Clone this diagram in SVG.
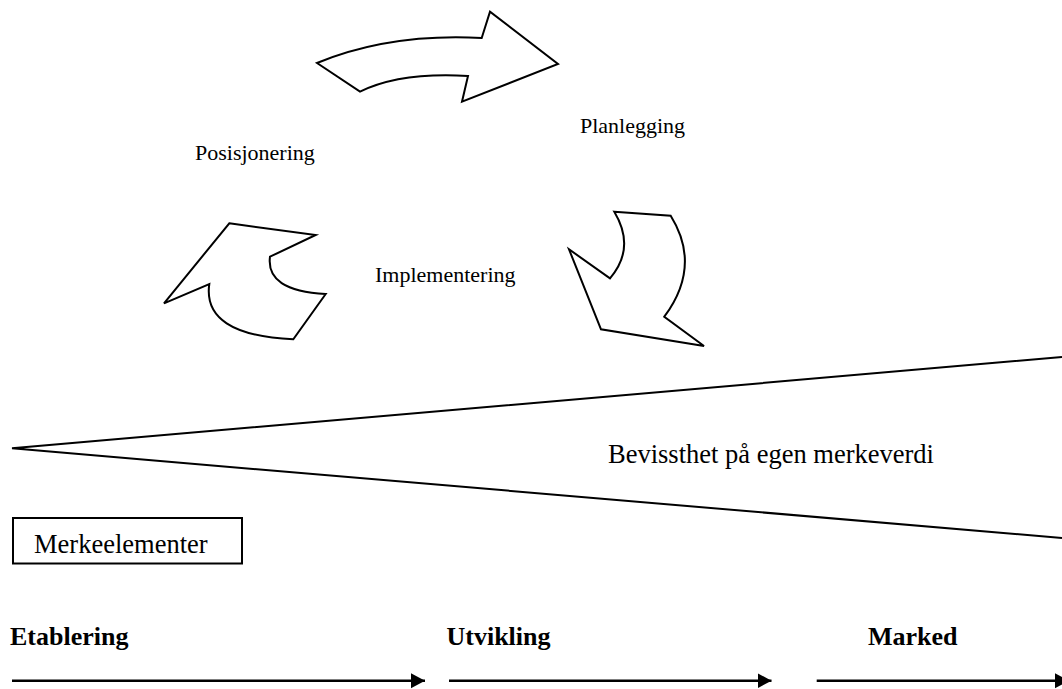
<svg xmlns="http://www.w3.org/2000/svg" width="1062" height="689" viewBox="0 0 1062 689">
<style>
.shape{fill:#fff;stroke:#000;stroke-width:2;stroke-linejoin:miter}
.lbl{font-family:"Liberation Serif","Times New Roman",serif;fill:#000}
.sm{font-size:22px}
.md{font-size:26.5px}
.bd{font-size:26px;font-weight:bold}
.ln{stroke:#000;stroke-width:2;fill:none}
.ar{stroke:#000;stroke-width:2.5;fill:none}
</style>
<defs>
<marker id="ah" markerUnits="userSpaceOnUse" markerWidth="16" markerHeight="16" refX="14" refY="8" orient="auto">
<path d="M0,0.5 L14,8 L0,15.5 Z" fill="#000"/>
</marker>
</defs>
<rect width="1062" height="689" fill="#fff"/>
<g id="arrow-top">
<path class="shape" d="M317,63 L360,91.7 Q400,72 468,76 L462,101.7 L558,64 L490,11.7 L481.7,38 Q390,33 317,63 Z"/>
</g>
<g id="arrow-right">
<path class="shape" d="M614.3,211.7 L670.7,215.7 Q702,266 664.3,316.7 L704,346 L601,329.3 L569,249.3 L610,278.3 Q636,248 614.3,211.7 Z"/>
</g>
<g id="arrow-left">
<path class="shape" d="M229.3,223.3 L315.7,235 L270,256.7 Q265.5,291 325.7,294 L293.3,339.3 Q202,335 209.3,284 L164,303.3 Z"/>
</g>
<g id="label-posisjonering"><text class="lbl sm" x="195" y="160">Posisjonering</text></g>
<g id="label-planlegging"><text class="lbl sm" x="580" y="133">Planlegging</text></g>
<g id="label-implementering"><text class="lbl sm" x="375" y="282">Implementering</text></g>
<g id="wedge">
<polyline class="ln" points="1062,357 12,448.3 1062,538"/>
<text class="lbl md" x="608" y="463">Bevissthet på egen merkeverdi</text>
</g>
<g id="merkeelementer">
<rect x="13" y="518" width="229" height="45.5" fill="#fff" stroke="#000" stroke-width="2"/>
<text class="lbl md" x="34" y="553">Merkeelementer</text>
</g>
<g id="stage-etablering"><text class="lbl bd" x="10" y="645">Etablering</text></g>
<g id="stage-utvikling"><text class="lbl bd" x="446.5" y="645">Utvikling</text></g>
<g id="stage-marked"><text class="lbl bd" x="868" y="645">Marked</text></g>
<g id="connectors">
<line class="ar" x1="12" y1="680.7" x2="425" y2="680.7" marker-end="url(#ah)"/>
<line class="ar" x1="449" y1="680.7" x2="771.5" y2="680.7" marker-end="url(#ah)"/>
<line class="ar" x1="816.7" y1="680.7" x2="1069" y2="680.7" marker-end="url(#ah)"/>
</g>
</svg>
